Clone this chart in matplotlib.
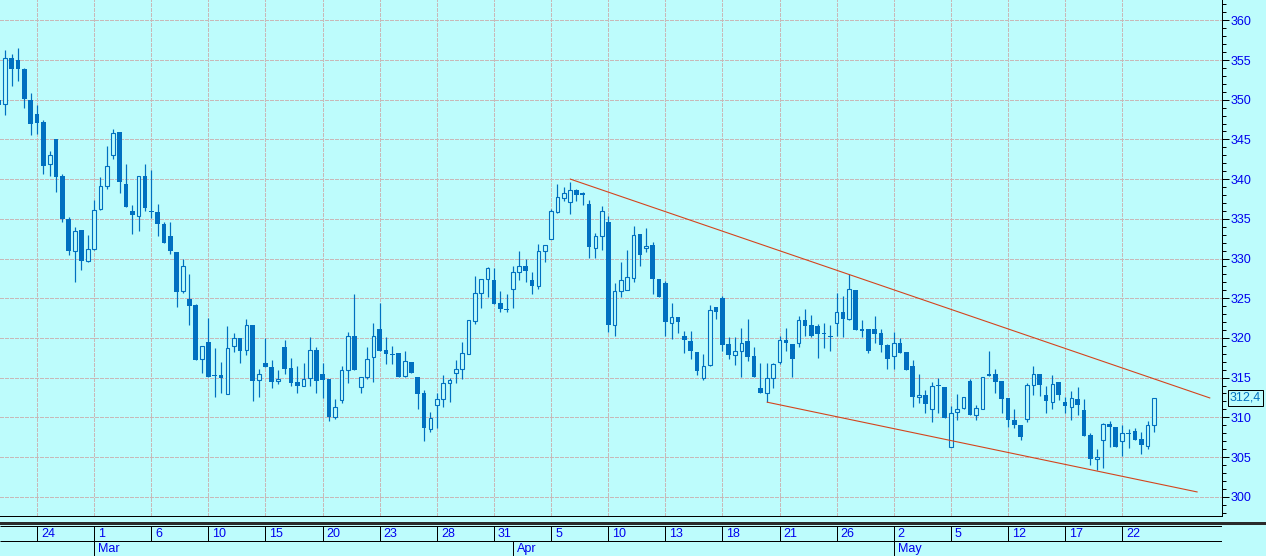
import numpy as np
import matplotlib
matplotlib.use("Agg")
import matplotlib.pyplot as plt
from matplotlib.ticker import MultipleLocator, FixedLocator
from matplotlib.patches import Rectangle
import matplotlib.transforms as mtransforms

plt.rcParams['font.family'] = ['Liberation Sans', 'DejaVu Sans']

# ---------------- data ----------------
opens = [350.0, 349.4, 355.2, 355.0, 353.9, 350.0, 348.2, 347.2, 341.9, 345.0,
         340.4, 335.0, 331.0, 333.6, 329.7, 331.2, 336.2, 339.1, 343.0, 345.9,
         339.4, 336.0, 335.3, 340.4, 336.0, 335.8, 334.3, 332.8, 330.8, 325.9,
         324.9, 324.1, 317.4, 319.5, 315.3, 315.3, 312.9, 319.0, 320.0, 318.5,
         321.6, 314.7, 316.8, 316.3, 314.6, 318.8, 316.2, 314.4, 314.0, 314.9,
         318.5, 315.5, 314.8, 310.1, 312.2, 315.9, 320.3, 313.8, 315.1, 317.6,
         321.1, 318.5, 318.0, 318.1, 315.2, 317.0, 315.1, 313.0, 308.5, 311.5,
         312.3, 314.3, 315.6, 316.1, 318.0, 322.1, 325.6, 327.4, 327.3, 324.4,
         323.7, 326.2, 328.3, 329.0, 327.3, 326.5, 330.9, 332.4, 335.9, 337.6,
         337.1, 338.6, 338.2, 336.9, 331.3, 332.8, 334.6, 321.6, 325.9, 326.0,
         327.5, 333.1, 331.3, 331.7, 327.4, 326.9, 321.9, 322.6, 320.3, 319.6,
         318.2, 315.0, 316.6, 323.9, 325.0, 319.2, 317.9, 318.4, 319.6, 317.7,
         313.7, 313.1, 314.9, 317.0, 319.7, 319.2, 319.4, 322.3, 321.6, 321.5,
         320.6, 320.3, 321.9, 323.3, 322.4, 326.0, 321.1, 321.1, 321.1, 320.6,
         319.1, 317.7, 319.4, 318.2, 316.5, 312.5, 312.8, 311.1, 314.0, 313.8,
         306.3, 310.7, 311.2, 314.6, 310.3, 311.0, 315.5, 315.4, 314.6, 312.4,
         309.6, 309.0, 309.8, 314.1, 315.5, 312.8, 311.9, 314.5, 311.9, 311.3,
         312.3, 310.9, 307.8, 304.7, 307.2, 309.2, 308.8, 307.0, 308.0, 308.3,
         307.3, 306.4, 309.0]
highs = [350.5, 356.3, 355.8, 356.5, 354.0, 350.9, 349.3, 347.4, 343.5, 345.0,
         340.7, 335.2, 334.0, 333.6, 333.0, 337.4, 340.3, 344.2, 346.3, 345.9,
         341.9, 336.8, 340.4, 341.9, 341.2, 336.9, 334.6, 334.6, 330.8, 329.9,
         328.0, 324.3, 319.0, 322.5, 318.7, 317.0, 321.5, 320.6, 320.0, 322.4,
         321.6, 316.1, 320.0, 317.2, 315.9, 319.7, 317.5, 316.5, 316.8, 320.1,
         318.9, 316.9, 314.8, 312.3, 316.5, 320.7, 325.5, 315.1, 318.9, 321.9,
         324.4, 320.1, 319.0, 318.1, 318.4, 317.0, 315.1, 313.4, 310.7, 313.0,
         315.3, 314.9, 317.2, 319.5, 322.2, 327.8, 327.4, 328.9, 328.8, 325.9,
         325.5, 329.0, 330.9, 330.0, 328.3, 331.8, 331.7, 336.2, 339.4, 339.0,
         339.6, 338.8, 338.4, 337.4, 333.2, 336.6, 335.3, 326.9, 329.5, 331.1,
         334.1, 333.1, 333.8, 332.1, 327.4, 327.2, 324.4, 322.6, 320.9, 320.9,
         318.2, 318.0, 324.1, 323.9, 325.3, 320.1, 320.1, 321.3, 322.4, 318.9,
         316.9, 316.9, 316.9, 320.2, 321.3, 319.2, 322.8, 323.6, 322.9, 321.7,
         321.9, 321.6, 325.7, 325.3, 328.0, 326.0, 322.2, 321.1, 322.7, 321.1,
         319.2, 320.7, 320.0, 318.2, 317.2, 315.5, 313.4, 314.4, 315.0, 313.8,
         311.4, 312.9, 312.5, 314.8, 311.5, 315.1, 318.3, 316.1, 314.6, 312.4,
         311.1, 309.0, 314.3, 316.4, 315.5, 314.0, 315.3, 314.5, 312.6, 313.3,
         313.8, 312.3, 308.0, 306.0, 309.3, 309.5, 308.8, 309.0, 308.5, 308.7,
         308.2, 309.5, 312.4]
lows = [348.9, 348.1, 351.7, 352.3, 349.0, 345.6, 345.7, 340.6, 340.4, 338.4,
        334.6, 330.4, 327.0, 328.6, 329.6, 331.1, 336.1, 338.7, 342.5, 338.2,
        336.5, 333.1, 333.5, 336.0, 335.1, 332.8, 332.0, 330.6, 323.9, 325.7,
        321.6, 317.2, 315.6, 315.1, 312.5, 313.0, 312.9, 318.2, 316.9, 317.9,
        312.1, 312.6, 316.3, 313.7, 314.2, 315.5, 313.9, 313.0, 314.0, 314.0,
        313.1, 312.4, 309.5, 309.8, 311.8, 314.3, 316.0, 313.0, 314.8, 314.5,
        318.3, 316.7, 316.7, 315.1, 315.1, 315.6, 311.1, 307.0, 308.2, 308.6,
        311.3, 311.9, 314.3, 314.8, 318.0, 321.7, 323.8, 325.1, 324.3, 323.2,
        323.2, 323.8, 327.3, 327.0, 325.5, 326.2, 329.6, 332.4, 335.7, 337.3,
        335.6, 337.2, 336.7, 330.1, 330.1, 331.1, 320.7, 320.2, 325.1, 326.0,
        327.1, 329.1, 330.8, 325.5, 325.1, 320.3, 319.9, 320.6, 318.1, 317.4,
        315.3, 314.7, 316.4, 322.4, 318.4, 317.3, 316.6, 315.1, 317.1, 315.1,
        313.1, 311.9, 313.7, 316.7, 318.3, 315.1, 318.9, 320.2, 320.1, 317.5,
        318.7, 318.3, 320.3, 320.1, 322.3, 321.0, 320.1, 318.1, 319.4, 318.2,
        316.1, 316.1, 318.1, 316.0, 311.3, 311.8, 310.6, 309.4, 310.6, 309.9,
        306.3, 309.6, 311.0, 310.3, 309.7, 311.0, 315.2, 313.0, 310.6, 308.8,
        308.7, 307.2, 309.4, 312.8, 312.7, 310.6, 311.1, 312.2, 310.5, 309.7,
        310.3, 307.7, 304.0, 303.3, 303.6, 306.2, 306.2, 305.1, 306.1, 307.2,
        305.4, 306.0, 308.2]
closes = [349.3, 355.2, 353.9, 353.9, 350.1, 347.0, 347.1, 341.7, 343.0, 340.3,
          335.0, 331.0, 333.5, 329.7, 331.2, 336.1, 339.1, 341.7, 345.8, 339.6,
          336.5, 335.5, 340.4, 336.4, 335.8, 334.3, 332.0, 330.9, 325.8, 329.1,
          324.0, 317.2, 319.0, 315.1, 315.2, 315.0, 318.7, 320.0, 318.3, 321.6,
          314.6, 315.4, 316.3, 314.4, 314.8, 316.1, 314.3, 314.0, 314.8, 318.5,
          314.6, 314.7, 310.1, 311.3, 315.9, 320.2, 316.0, 315.1, 317.4, 320.3,
          318.3, 318.0, 317.8, 315.1, 317.1, 315.6, 312.9, 308.6, 309.9, 312.3,
          314.3, 314.7, 316.1, 318.1, 322.2, 325.6, 327.4, 328.8, 324.3, 323.6,
          323.5, 328.3, 329.0, 328.4, 326.5, 330.9, 331.7, 336.0, 337.7, 338.2,
          338.6, 338.0, 338.0, 331.4, 332.8, 336.0, 321.6, 325.9, 327.3, 327.7,
          333.0, 330.5, 331.6, 327.4, 325.1, 322.0, 322.6, 322.0, 319.7, 318.3,
          315.8, 316.5, 323.5, 323.2, 319.1, 317.9, 318.4, 319.4, 317.6, 315.1,
          313.1, 314.9, 316.7, 319.7, 319.4, 317.4, 322.3, 321.5, 320.3, 320.5,
          320.5, 320.1, 323.3, 322.4, 326.1, 321.0, 320.9, 318.4, 320.5, 319.1,
          317.3, 319.3, 318.1, 316.0, 312.6, 312.8, 311.7, 313.9, 313.9, 309.9,
          310.6, 311.0, 312.5, 310.3, 311.2, 315.1, 315.2, 314.5, 312.3, 309.6,
          309.0, 307.5, 314.1, 315.5, 314.1, 312.1, 314.2, 312.8, 311.4, 312.4,
          311.6, 307.7, 304.7, 305.0, 309.2, 308.8, 306.2, 308.0, 307.9, 307.2,
          306.5, 309.0, 312.4]

# date axis
grid_bars = [6, 15, 24, 33, 42, 51, 60, 69, 78, 87, 96, 105, 114, 123, 132,
             141, 150, 159, 168, 177]
day_labels = ['24', '1', '6', '10', '15', '20', '23', '28', '31', '5', '10',
              '13', '18', '21', '26', '2', '5', '12', '17', '22']
month_bars = [15, 81, 141]
month_labels = ['Mar', 'Apr', 'May']

# trend lines (bar index, price)
upper_line_x = [90.03, 190.8]
upper_line_y = [340.0, 312.44]
lower_line_x = [121.07, 188.8]
lower_line_y = [311.9, 300.6]

last_label = '312,4'
last_value = 312.44

# ---------------- style ----------------
W, H = 1266, 556
PX = 72.0 / 100.0          # 1 pixel in points
bg = '#bdfcfc'
candle_col = '#0070c0'
grid_col = '#c8b8b8'
trend_col = '#d4441c'
text_blue = '#0000ee'

step = 6.346               # pixels per bar
x_first = 5.3              # pixel of bar 1
xmin = 1 - x_first / step
plot_w = 1222
xmax = 1 + (plot_w - x_first) / step
plot_h = 516
y360 = 20.3
ppu = 7.94
ymax = 360 + y360 / ppu
ymin = 360 - (plot_h - y360) / ppu

fig = plt.figure(figsize=(W / 100, H / 100), dpi=100)
fig.patch.set_facecolor(bg)

ax = fig.add_axes([0, (H - plot_h) / H, plot_w / W, plot_h / H])
ax.set_facecolor(bg)
ax.set_xlim(xmin, xmax)
ax.set_ylim(ymin, ymax)

# grid
for lvl in range(300, 361, 5):
    ax.axhline(lvl, color=grid_col, lw=PX, ls=(0, (3, 2)), zorder=0,
               antialiased=False)
for gb in grid_bars:
    ax.axvline(gb, color=grid_col, lw=PX, ls=(0, (3, 2)), zorder=0,
               antialiased=False)

o = np.array(opens); h = np.array(highs); l = np.array(lows); c = np.array(closes)
idx = np.arange(len(o))
up = c >= o

ax.vlines(idx, l, h, color=candle_col, lw=1.2 * PX, zorder=2)
# filled (down) candles
dn = ~up
body_lo = np.minimum(o, c)
body_hi = np.maximum(o, c)
hgt = np.maximum(body_hi - body_lo, 0.12)
ax.bar(idx[dn], hgt[dn], bottom=body_lo[dn], width=4.7 / step,
       color=candle_col, linewidth=0, zorder=3)
# hollow (up) candles
ax.bar(idx[up], hgt[up], bottom=body_lo[up], width=3.7 / step,
       facecolor=bg, edgecolor=candle_col, linewidth=1.1 * PX, zorder=3)

# trend lines
ax.plot(upper_line_x, upper_line_y, color=trend_col, lw=1.1 * PX, zorder=4)
ax.plot(lower_line_x, lower_line_y, color=trend_col, lw=1.1 * PX, zorder=4)

# axes styling
for s in ['left', 'top']:
    ax.spines[s].set_visible(False)
ax.spines['right'].set_color('black')
ax.spines['right'].set_linewidth(PX)
ax.spines['bottom'].set_color('black')
ax.spines['bottom'].set_linewidth(PX)
ax.set_xticks([])
ax.yaxis.tick_right()
ax.yaxis.set_major_locator(FixedLocator(list(range(300, 361, 5))))
ax.yaxis.set_minor_locator(MultipleLocator(1))
ax.tick_params(axis='y', which='major', length=7 * PX, width=PX, color='black',
               labelcolor=text_blue, labelsize=9, pad=1.5 * PX)
ax.tick_params(axis='y', which='minor', length=4.3 * PX, width=PX, color='black')

# last price box
trans = mtransforms.blended_transform_factory(ax.transAxes, ax.transData)
ax.text(1 + 8 / plot_w, last_value, last_label, transform=trans, ha='left',
        va='center', fontsize=9, color=candle_col, zorder=6,
        bbox=dict(boxstyle='square,pad=0.15', fc=bg, ec='black', lw=PX))

# ---------------- date axis ----------------
axb = fig.add_axes([0, 0, plot_w / W, (H - plot_h) / H])
axb.set_xlim(xmin, xmax)
axb.set_ylim(0, H - plot_h)
axb.axis('off')
# dark bar across full width
fig.add_artist(Rectangle((0, 31 / H), 1, 3 / H, transform=fig.transFigure,
                         facecolor='#2b2b2b', edgecolor='none'))
axb.hlines([29.7, 15], xmin, xmax, color='black', lw=PX)
axb.vlines(grid_bars, 15, 29.7, color='black', lw=PX)
axb.vlines(month_bars, 0, 15, color='black', lw=PX)
off = 4 / step
for gb, lab in zip(grid_bars, day_labels):
    axb.text(gb + off, 22.2, lab, ha='left', va='center', fontsize=9,
             color=text_blue)
for mb, lab in zip(month_bars, month_labels):
    axb.text(mb + off, 7.3, lab, ha='left', va='center', fontsize=9,
             color=text_blue)

fig.savefig('out.png', dpi=100, facecolor=bg)
